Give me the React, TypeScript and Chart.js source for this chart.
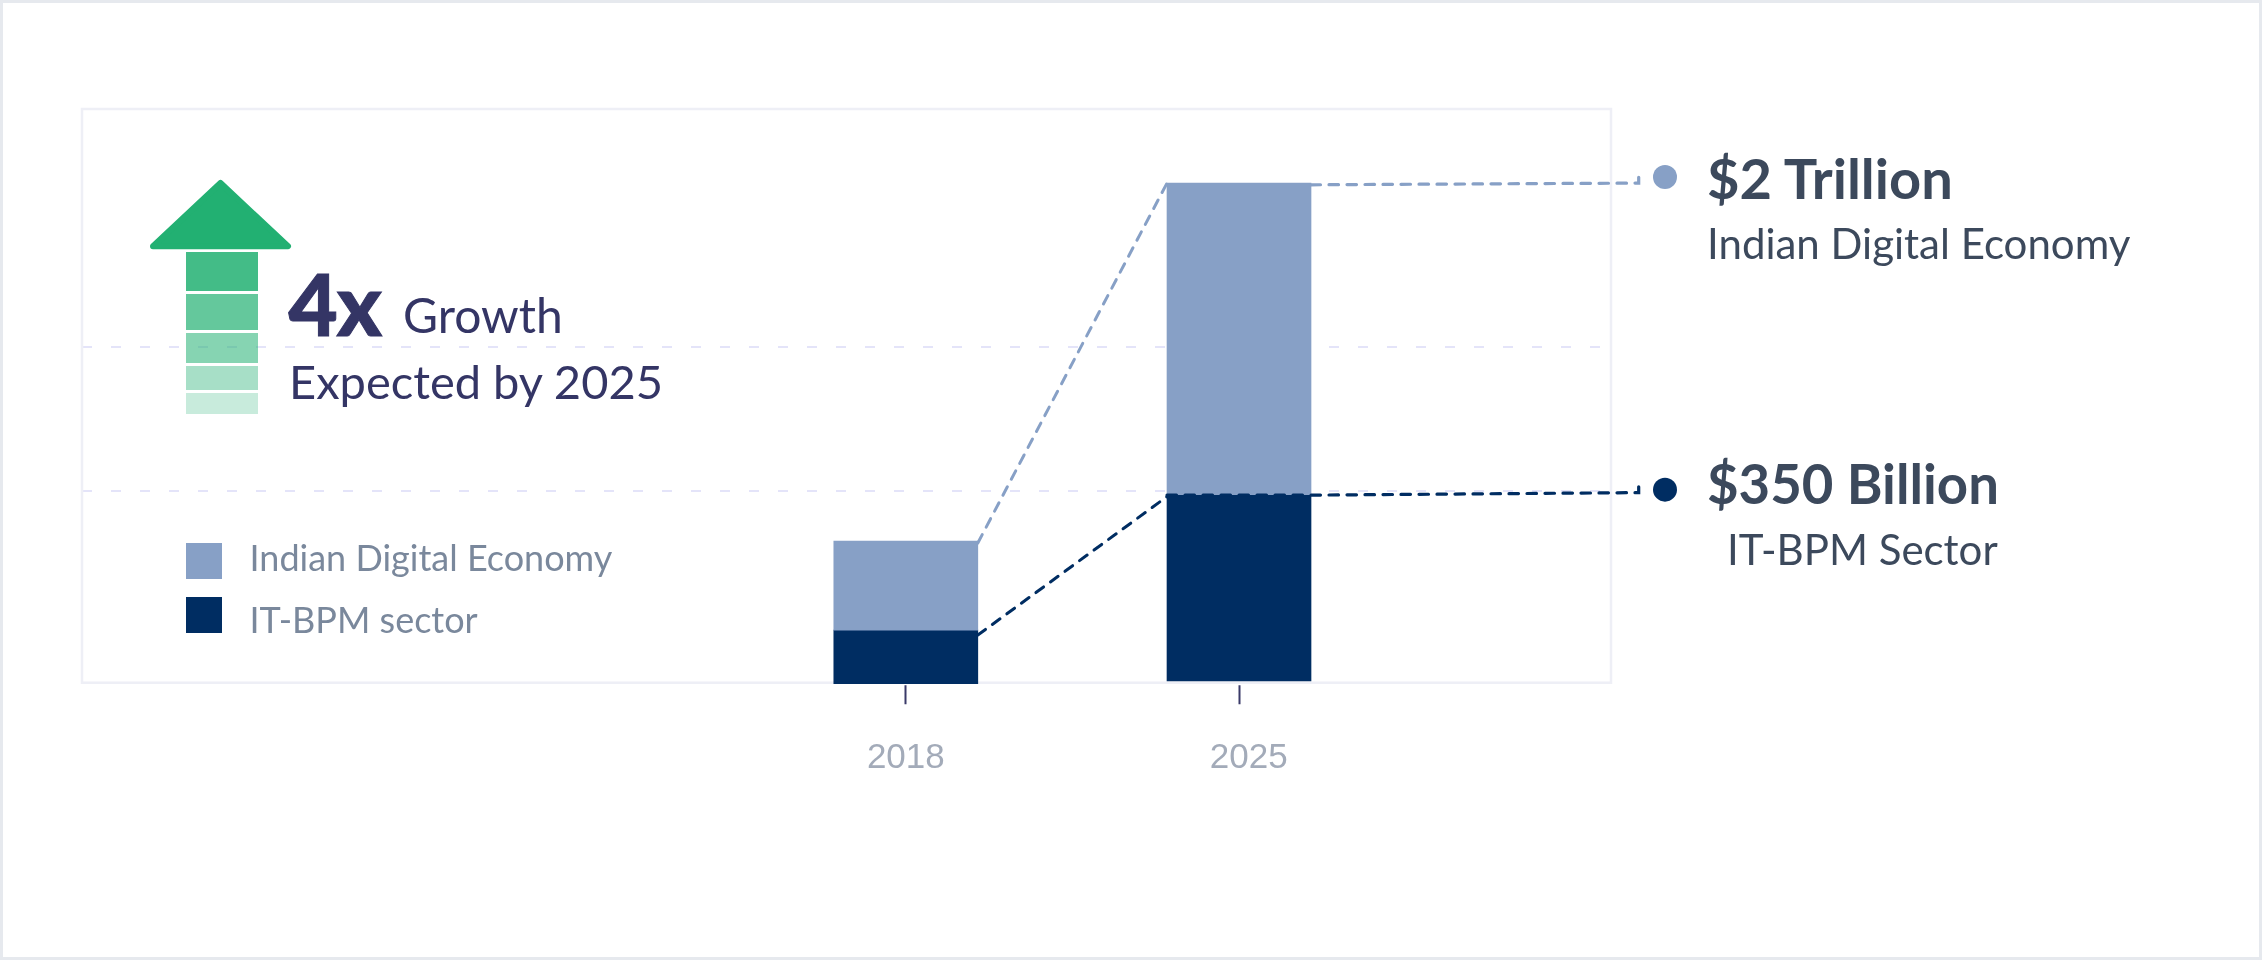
import React, { useEffect, useRef } from "react";
import { Chart, registerables } from "chart.js";

Chart.register(...registerables);

// Bar heights (the reference does not draw them to the scale of its captions).
const years = [2018, 2025];
const itBpmBase = [-4, 7];
const itBpmTop = [211, 754];
const digitalTop = [568, 2003];
const gridValues = [770, 1347];
const seriesNames = ["Indian Digital Economy", "IT-BPM sector"];

const LIGHT = "#87a0c6";
const NAVY = "#002d62";

const boxAndLinks = {
  id: "boxAndLinks",
  beforeDatasetsDraw(chart: any) {
    const { ctx, chartArea: a } = chart;
    ctx.save();
    ctx.strokeStyle = "#eeeff6";
    ctx.lineWidth = 2.5;
    ctx.strokeRect(a.left, a.top, a.right - a.left, a.bottom - a.top);
    ctx.restore();
  },
  afterDatasetsDraw(chart: any) {
    const { ctx, chartArea: a } = chart;
    const dig = chart.getDatasetMeta(0).data;
    const it = chart.getDatasetMeta(1).data;
    const right = (b: any) => b.x + b.width / 2;
    const left = (b: any) => b.x - b.width / 2;
    const elbowX = a.right + 27.7;
    const dotX = a.right + 54;
    const link = (color: string, w: number, dash: number[], pts: number[][]) => {
      ctx.save();
      ctx.strokeStyle = color;
      ctx.lineWidth = w;
      ctx.lineCap = "round";
      ctx.setLineDash(dash);
      ctx.beginPath();
      pts.forEach((p, i) => (i ? ctx.lineTo(p[0], p[1]) : ctx.moveTo(p[0], p[1])));
      ctx.stroke();
      ctx.restore();
    };
    const dot = (color: string, y: number) => {
      ctx.save();
      ctx.fillStyle = color;
      ctx.beginPath();
      ctx.arc(dotX, y, 12, 0, Math.PI * 2);
      ctx.fill();
      ctx.restore();
    };
    const dash = [9.5, 8.5];
    // Light series
    link(LIGHT, 3, dash, [[right(dig[0]), dig[0].y + 2], [left(dig[1]), dig[1].y]]);
    link(LIGHT, 3.2, dash, [[right(dig[1]), dig[1].y + 1.7], [elbowX, dig[1].y], [elbowX, dig[1].y - 10]]);
    dot(LIGHT, dig[1].y - 6);
    // Navy series
    link(NAVY, 3, dash, [[right(it[0]), it[0].y + 5], [left(it[1]), it[1].y + 2]]);
    link(NAVY, 3.2, dash, [[left(it[1]), it[1].y + 0.5], [right(it[1]), it[1].y + 0.5], [elbowX, it[1].y - 2], [elbowX, it[1].y - 12]]);
    dot(NAVY, it[1].y - 5);
  },
};

const text = (left: number, top: number, size: number, color: string, weight = 400): React.CSSProperties => ({
  position: "absolute",
  left,
  top,
  fontSize: size,
  color,
  fontWeight: weight,
  fontFamily: "Lato",
  lineHeight: 1,
  whiteSpace: "nowrap",
});

export default function App() {
  const ref = useRef<HTMLCanvasElement>(null);
  useEffect(() => {
    const chart = new Chart(ref.current as HTMLCanvasElement, {
      type: "bar",
      data: {
        datasets: [
          {
            label: seriesNames[0],
            data: years.map((x, i) => ({ x, y: [itBpmTop[i], digitalTop[i]] })) as any,
            backgroundColor: LIGHT,
            clip: false as any,
          },
          {
            label: seriesNames[1],
            data: years.map((x, i) => ({ x, y: [itBpmBase[i], itBpmTop[i]] })) as any,
            backgroundColor: NAVY,
            clip: false as any,
          },
        ],
      },
      plugins: [boxAndLinks],
      options: {
        animation: false,
        responsive: false,
        devicePixelRatio: 1,
        grouped: false,
        barThickness: 144,
        layout: { padding: { left: 82, top: 109, right: 651, bottom: 0 } },
        plugins: { legend: { display: false }, tooltip: { enabled: false } },
        scales: {
          x: {
            type: "linear",
            offset: false,
            min: 2000.693,
            max: 2032.815,
            afterBuildTicks: (s: any) => {
              s.ticks = years.map((value) => ({ value }));
            },
            afterFit: (s: any) => {
              s.height = 277.3;
            },
            border: { display: false },
            grid: {
              offset: false,
              drawOnChartArea: false,
              tickLength: 21.6,
              tickColor: "#3a3a69",
              tickWidth: 2,
              tickBorderDash: [0, 2.3, 19.3, 50],
            },
            ticks: {
              autoSkip: false,
              maxRotation: 0,
              padding: 33,
              color: "#a3abb9",
              font: { family: "Liberation Sans", size: 35 },
              callback: (v: any) => (v === 2025 ? "\u00a0\u00a0" + v : String(v)),
            },
          },
          y: {
            min: 0,
            max: 2300,
            afterBuildTicks: (s: any) => {
              s.ticks = gridValues.map((value) => ({ value }));
            },
            afterFit: (s: any) => {
              s.width = 0;
            },
            border: { display: false, dash: [10, 19] },
            grid: { color: "#e4e4f9", lineWidth: 2, drawTicks: false },
            ticks: { display: false },
          },
        },
      } as any,
    });
    return () => chart.destroy();
  }, []);

  const blockAlpha = [0.85, 0.7, 0.55, 0.4, 0.25];
  const blocks = [
    [252, 39],
    [294, 36],
    [333, 30],
    [366, 24],
    [393, 21],
  ];

  return (
    <div style={{ position: "absolute", left: 0, top: 0, width: 2262, height: 960, background: "#fff", overflow: "hidden" }}>
      <canvas ref={ref} width={2262} height={960} style={{ position: "absolute", left: 0, top: 0 }} />
      <div style={{ position: "absolute", inset: 0, border: "3px solid #e6e9ee", boxSizing: "border-box" }} />
      <svg width={2262} height={960} style={{ position: "absolute", left: 0, top: 0 }}>
        <path
          d="M220.5 183 L288 246.3 L153 246.3 Z"
          fill="#22b072"
          stroke="#22b072"
          strokeWidth={6}
          strokeLinejoin="round"
        />
        {blocks.map(([y, h], i) => (
          <rect key={i} x={186} y={y} width={72} height={h} fill="#22b072" fillOpacity={blockAlpha[i]} />
        ))}
        <rect x={186} y={543} width={36} height={36} fill={LIGHT} />
        <rect x={186} y={597} width={36} height={36} fill={NAVY} />
      </svg>
      <div style={{ ...text(288.5, 261, 85, "#343565", 900), letterSpacing: -1, WebkitTextStroke: "1px #343565" }}>4x</div>
      <div style={text(403, 291, 48, "#343565")}>Growth</div>
      <div style={text(289, 357.5, 47, "#343565")}>Expected by 2025</div>
      <div style={text(249.5, 538.5, 36, "#7a889c")}>{seriesNames[0]}</div>
      <div style={text(249.5, 601, 36, "#7a889c")}>{seriesNames[1]}</div>
      <div style={text(1707, 149.5, 56, "#3c495c", 700)}>$2 Trillion</div>
      <div style={text(1707, 222, 42, "#3c495c")}>Indian Digital Economy</div>
      <div style={text(1707, 455.5, 54.5, "#3c495c", 700)}>$350 Billion</div>
      <div style={text(1727, 527.5, 42, "#3c495c")}>IT-BPM Sector</div>
    </div>
  );
}
